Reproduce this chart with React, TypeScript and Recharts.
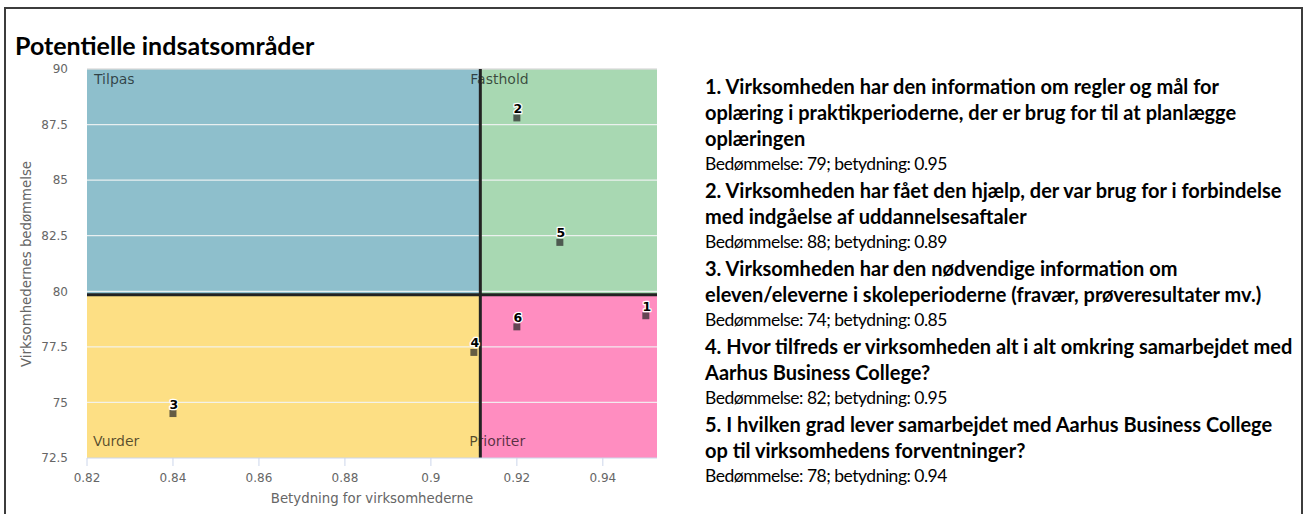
import {
  ScatterChart,
  Scatter,
  XAxis,
  YAxis,
  ReferenceArea,
  ReferenceLine,
  Label,
} from "recharts";

const pointIds = ["1", "2", "3", "4", "5", "6"];
const importance = [0.95, 0.92, 0.84, 0.91, 0.93, 0.92];
const rating = [78.9, 87.8, 74.5, 77.25, 82.2, 78.4];

const xTicks = [0.82, 0.84, 0.86, 0.88, 0.9, 0.92, 0.94];
const yTicks = [72.5, 75, 77.5, 80, 82.5, 85, 87.5, 90];
const xDomain = [0.82, 0.9526];
const yDomain = [72.5, 90];

// quadrant split (mean values)
const splitX = 0.9115;
const splitY = 79.84;

const quadrantNames = ["Tilpas", "Fasthold", "Vurder", "Prioriter"];

const questionLines = [
  ["1. Virksomheden har den information om regler og mål for", "b"],
  ["oplæring i praktikperioderne, der er brug for til at planlægge", "b"],
  ["oplæringen", "b"],
  ["Bedømmelse: 79; betydning: 0.95", "r"],
  ["2. Virksomheden har fået den hjælp, der var brug for i forbindelse", "b"],
  ["med indgåelse af uddannelsesaftaler", "b"],
  ["Bedømmelse: 88; betydning: 0.89", "r"],
  ["3. Virksomheden har den nødvendige information om", "b"],
  ["eleven/eleverne i skoleperioderne (fravær, prøveresultater mv.)", "b"],
  ["Bedømmelse: 74; betydning: 0.85", "r"],
  ["4. Hvor tilfreds er virksomheden alt i alt omkring samarbejdet med", "b"],
  ["Aarhus Business College?", "b"],
  ["Bedømmelse: 82; betydning: 0.95", "r"],
  ["5. I hvilken grad lever samarbejdet med Aarhus Business College", "b"],
  ["op til virksomhedens forventninger?", "b"],
  ["Bedømmelse: 78; betydning: 0.94", "r"],
];

const points = pointIds.map((id, i) => ({ id, x: importance[i], y: rating[i] }));

const chartFont = "'DejaVu Sans', sans-serif";

const PointMarker = (props: any) => {
  const { cx, cy, payload } = props;
  return (
    <g>
      <rect x={cx - 3.5} y={cy - 3.5} width={7} height={7} fill="#2a2a2a" fillOpacity={0.72} />
      <text
        x={cx + 1}
        y={cy - 5}
        textAnchor="middle"
        fontFamily={chartFont}
        fontSize={12.5}
        fontWeight="bold"
        fill="#000"
        stroke="#fff"
        strokeWidth={2.5}
        strokeLinejoin="round"
        paintOrder="stroke"
      >
        {payload.id}
      </text>
    </g>
  );
};

const areaLabel = (name: string, dx: number, atBottom: boolean) => (props: any) => {
  const vb = props.viewBox;
  if (!vb) return null;
  const y = atBottom ? vb.y + vb.height - 12 : vb.y + 15;
  return (
    <text
      x={vb.x + dx}
      y={y}
      fontFamily={chartFont}
      fontSize={14}
      fill="#000"
      fillOpacity={0.66}
    >
      {name}
    </text>
  );
};

export default function App() {
  return (
    <div
      style={{
        position: "absolute",
        left: 0,
        top: 0,
        width: 1305,
        height: 514,
        overflow: "hidden",
        background: "#fff",
      }}
    >
      <div
        style={{
          position: "absolute",
          left: 4,
          top: 7,
          width: 1295,
          height: 530,
          border: "2px solid #3c3c3c",
        }}
      />
      <div
        style={{
          position: "absolute",
          left: 15,
          top: 28,
          fontFamily: "Lato, sans-serif",
          fontWeight: "bold",
          fontSize: 25,
          lineHeight: "34px",
          color: "#000",
          whiteSpace: "nowrap",
        }}
      >
        Potentielle indsatsområder
      </div>

      <div style={{ position: "absolute", left: 0, top: 0 }}>
        <ScatterChart
          width={670}
          height={514}
          margin={{ top: 69, right: 13, bottom: 26, left: 27 }}
        >
          <XAxis
            type="number"
            dataKey="x"
            domain={xDomain}
            ticks={xTicks}
            allowDataOverflow
            stroke="#ccd6eb"
            tickSize={8}
            tickMargin={7}
            tick={{ fill: "#666", fontSize: 12, fontFamily: chartFont }}
            height={30}
          >
            <Label
              content={() => (
                <text
                  x={372}
                  y={503}
                  textAnchor="middle"
                  fontFamily={chartFont}
                  fontSize={13.3}
                  fill="#666"
                >
                  Betydning for virksomhederne
                </text>
              )}
            />
          </XAxis>
          <YAxis
            type="number"
            dataKey="y"
            domain={yDomain}
            ticks={yTicks}
            allowDataOverflow
            axisLine={false}
            tickLine={false}
            tickSize={0}
            tickMargin={19}
            width={60}
            tick={{ fill: "#666", fontSize: 12, fontFamily: chartFont }}
          >
            <Label
              content={() => (
                <text
                  x={31}
                  y={264}
                  transform="rotate(-90 31 264)"
                  textAnchor="middle"
                  fontFamily={chartFont}
                  fontSize={13.3}
                  fill="#666"
                >
                  Virksomhedernes bedømmelse
                </text>
              )}
            />
          </YAxis>

          <ReferenceArea
            x1={xDomain[0]}
            x2={splitX}
            y1={splitY}
            y2={yDomain[1]}
            fill="#8ebfcc"
            fillOpacity={1}
            stroke="none"
            label={areaLabel(quadrantNames[0], 7, false)}
          />
          <ReferenceArea
            x1={splitX}
            x2={xDomain[1]}
            y1={splitY}
            y2={yDomain[1]}
            fill="#a8d8b2"
            fillOpacity={1}
            stroke="none"
            label={areaLabel(quadrantNames[1], -10, false)}
          />
          <ReferenceArea
            x1={xDomain[0]}
            x2={splitX}
            y1={yDomain[0]}
            y2={splitY}
            fill="#fddf84"
            fillOpacity={1}
            stroke="none"
            label={areaLabel(quadrantNames[2], 6, true)}
          />
          <ReferenceArea
            x1={splitX}
            x2={xDomain[1]}
            y1={yDomain[0]}
            y2={splitY}
            fill="#ff8dc0"
            fillOpacity={1}
            stroke="none"
            label={areaLabel(quadrantNames[3], -11, true)}
          />

          {yTicks.slice(1).map((t) => (
            <ReferenceLine
              key={t}
              y={t}
              stroke={t === yDomain[1] ? "#dcdcdc" : "#f2f4f4"}
              strokeOpacity={0.9}
              strokeWidth={1.3}
            />
          ))}

          <ReferenceLine x={splitX} stroke="#222" strokeWidth={3} />
          <ReferenceLine y={splitY} stroke="#222" strokeWidth={3} />

          <Scatter
            data={points}
            isAnimationActive={false}
            shape={<PointMarker />}
          />
        </ScatterChart>
      </div>

      <div
        style={{
          position: "absolute",
          left: 705,
          top: 73,
          fontFamily: "Lato, sans-serif",
          fontSize: 20,
          lineHeight: "26px",
          color: "#000",
          whiteSpace: "nowrap",
        }}
      >
        {questionLines.map(([txt, kind], i) => (
          <div
            key={i}
            style={
              kind === "b"
                ? { fontWeight: "bold", height: 26 }
                : { fontWeight: "normal", fontSize: 17.5, letterSpacing: -0.5, height: 26 }
            }
          >
            {txt}
          </div>
        ))}
      </div>
    </div>
  );
}
